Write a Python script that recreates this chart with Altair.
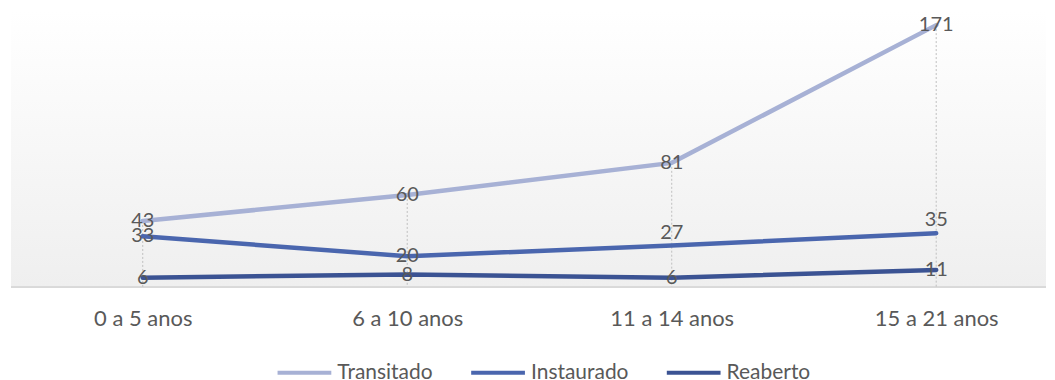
import altair as alt
import pandas as pd

categories = ["0 a 5 anos", "6 a 10 anos", "11 a 14 anos", "15 a 21 anos"]
series_names = ["Transitado", "Instaurado", "Reaberto"]
transitado = [43, 60, 81, 171]
instaurado = [33, 20, 27, 35]
reaberto = [6, 8, 6, 11]
colors = ["#A7B1D5", "#4A66AE", "#3B5393"]

rows = []
for s, vals in zip(series_names, [transitado, instaurado, reaberto]):
    for c, v in zip(categories, vals):
        rows.append({"cat": c, "serie": s, "valor": v})
df = pd.DataFrame(rows)

FONT = "Lato"
TXT = "#595959"
W, H = 1037, 276

x = alt.X(
    "cat:N",
    sort=categories,
    scale=alt.Scale(type="point", range=[132, 927], padding=0),
    axis=alt.Axis(title=None, labelAngle=0, ticks=False, domain=False, grid=False,
                  labelFont=FONT, labelFontSize=22, labelColor=TXT, labelPadding=22),
)
y = alt.Y("valor:Q", scale=alt.Scale(domain=[0, 180]), axis=None)

base = alt.Chart(df)

bg = base.mark_rect(
    color=alt.LinearGradient(
        gradient="linear", x1=0, y1=0, x2=0, y2=1,
        stops=[alt.GradientStop(color="#FFFFFF", offset=0),
               alt.GradientStop(color="#EFEFEF", offset=1)],
    )
).encode(x=alt.value(0), x2=alt.value(W), y=alt.value(0), y2=alt.value(H))

baseline = base.mark_rule(color="#D9D9D9", strokeWidth=1.5).encode(
    x=alt.value(0), x2=alt.value(W), y=alt.value(H + 0.5)
)

drops = base.transform_filter("datum.serie == 'Transitado'").mark_rule(
    color="#BFBFBF", strokeWidth=1, strokeDash=[2, 2]
).encode(x=x, y=y, y2=alt.datum(0))

lines = base.mark_line(strokeWidth=4.5, strokeCap="round").encode(
    x=x, y=y,
    color=alt.Color(
        "serie:N", sort=series_names,
        scale=alt.Scale(domain=series_names, range=colors),
        legend=alt.Legend(
            orient="none", direction="horizontal", title=None,
            legendX=265, legendY=333,
            symbolType="stroke", symbolStrokeWidth=4, symbolSize=2900,
            labelFont=FONT, labelFontSize=21, labelColor=TXT,
            columnPadding=30, labelOffset=4,
        ),
    ),
)

above = "datum.serie == 'Instaurado' && (datum.cat == '11 a 14 anos' || datum.cat == '15 a 21 anos')"

labels = base.transform_filter("!(" + above + ")").mark_text(
    font=FONT, fontSize=20, color=TXT, baseline="middle", align="center"
).encode(x=x, y=y, text="valor:Q")

labels_above = base.transform_filter(above).mark_text(
    font=FONT, fontSize=20, color=TXT, baseline="bottom", align="center", dy=-3
).encode(x=x, y=y, text="valor:Q")

chart = alt.layer(bg, baseline, drops, lines, labels, labels_above).properties(
    width=W, height=H,
    padding={"left": 2, "top": 3, "right": 0, "bottom": 0},
).configure_view(stroke=None)

chart.save("out.html", embed_options={"renderer": "svg", "actions": False})
